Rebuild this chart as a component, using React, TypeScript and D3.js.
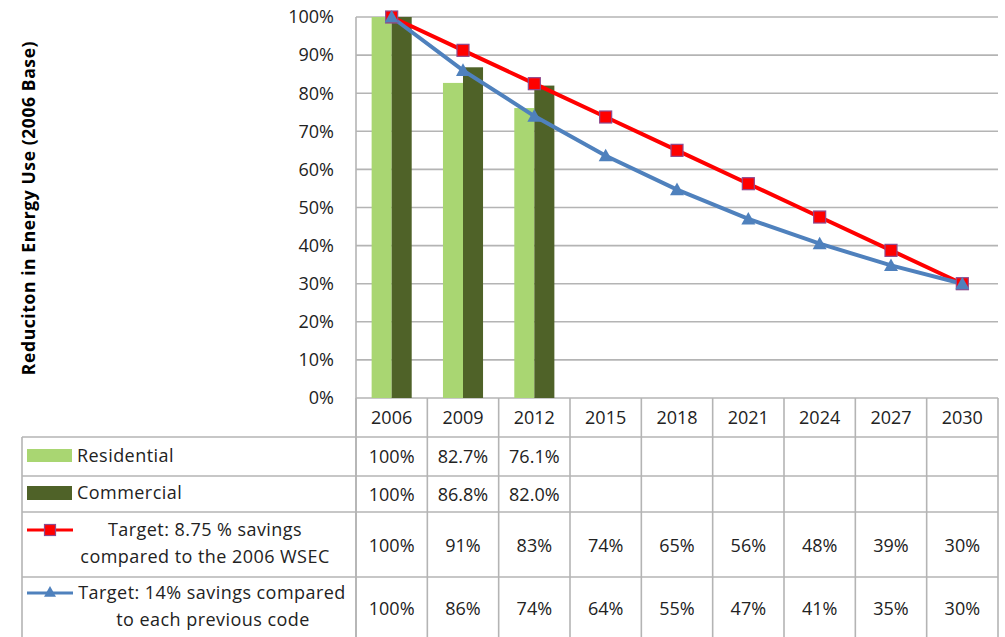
import React from "react";
import { scaleBand, scaleLinear, line } from "d3";

const years = ["2006", "2009", "2012", "2015", "2018", "2021", "2024", "2027", "2030"];
const yTicks = [0, 10, 20, 30, 40, 50, 60, 70, 80, 90, 100];

const residential = [100, 82.7, 76.1];
const commercial = [100, 86.8, 82.0];
const target875 = [100, 91.25, 82.5, 73.75, 65, 56.25, 47.5, 38.75, 30];
const target14 = [100, 86, 74, 63.6, 54.7, 47, 40.5, 34.8, 30];

const residentialLabels = ["100%", "82.7%", "76.1%"];
const commercialLabels = ["100%", "86.8%", "82.0%"];
const target875Labels = ["100%", "91%", "83%", "74%", "65%", "56%", "48%", "39%", "30%"];
const target14Labels = ["100%", "86%", "74%", "64%", "55%", "47%", "41%", "35%", "30%"];

const yTitle = "Reduciton in Energy Use (2006 Base)";

const GREEN_LT = "#a9d672";
const GREEN_DK = "#4f6228";
const RED = "#ff0000";
const BLUE = "#4f81bd";
const GRID = "#b4b4b4";
const FONT = "'Open Sans', sans-serif";

export default function App() {
  const W = 1005, H = 637;
  const left = 356, right = 998, top = 17, bottom = 398;
  const tableLeft = 22;
  const rows = [398, 437, 476, 512, 577, 637];

  const x = scaleBand().domain(years).range([left, right]).padding(0);
  const y = scaleLinear().domain([0, 100]).range([bottom, top]);
  const xBar = scaleBand()
    .domain(["res", "com"])
    .range([0, x.bandwidth()])
    .paddingInner(0)
    .paddingOuter(0.78);

  const cx = (i) => x(years[i]) + x.bandwidth() / 2;
  const mkLine = line<number>().x((d, i) => cx(i)).y((d) => y(d));

  const tri = (px, py, s) =>
    `M${px},${py - s}L${px + s},${py + s * 0.8}L${px - s},${py + s * 0.8}Z`;

  const num = { fontFamily: FONT, fontSize: 18, fill: "#222" };
  const lab = { fontFamily: FONT, fontSize: 18, fill: "#222", letterSpacing: 0.45 };

  return (
    <div style={{ position: "absolute", left: 0, top: 0 }}>
      <svg width={W} height={H} style={{ display: "block", background: "#fff" }}>
        {/* gridlines */}
        {yTicks.map((t) => (
          <line key={t} x1={left} x2={right} y1={y(t)} y2={y(t)} stroke={GRID} strokeWidth={1.6} />
        ))}
        {yTicks.map((t) => (
          <text key={"l" + t} x={334} y={y(t)} dy="0.35em" textAnchor="end" {...num}>
            {t + "%"}
          </text>
        ))}
        <text
          transform={`translate(35,208) rotate(-90)`}
          textAnchor="middle"
          fontFamily={FONT}
          fontSize={17.5}
          letterSpacing={0.6}
          fontWeight="bold"
          fill="#000"
        >
          {yTitle}
        </text>

        {/* bars */}
        {residential.map((v, i) => (
          <rect key={"r" + i} x={x(years[i]) + xBar("res")} y={y(v)} width={xBar.bandwidth()} height={bottom - y(v)} fill={GREEN_LT} />
        ))}
        {commercial.map((v, i) => (
          <rect key={"c" + i} x={x(years[i]) + xBar("com")} y={y(v)} width={xBar.bandwidth()} height={bottom - y(v)} fill={GREEN_DK} />
        ))}

        {/* lines */}
        <path d={mkLine(target875)} fill="none" stroke={RED} strokeWidth={4} />
        <path d={mkLine(target14)} fill="none" stroke={BLUE} strokeWidth={4} />
        {target875.map((v, i) => (
          <rect key={"m" + i} x={cx(i) - 6} y={y(v) - 6} width={12} height={12} fill={RED} stroke="#8e4a8e" strokeWidth={1.2} />
        ))}
        {target14.map((v, i) => (
          <path key={"t" + i} d={tri(cx(i), y(v), 7)} fill={BLUE} />
        ))}

        {/* table lines */}
        <line x1={left} x2={left} y1={top} y2={H} stroke={GRID} strokeWidth={1.6} />
        <line x1={right} x2={right} y1={bottom} y2={H} stroke={GRID} strokeWidth={1.6} />
        <line x1={tableLeft} x2={tableLeft} y1={rows[1]} y2={H} stroke={GRID} strokeWidth={1.6} />
        {rows.slice(1, 5).map((r) => (
          <line key={r} x1={tableLeft} x2={right} y1={r} y2={r} stroke={GRID} strokeWidth={1.6} />
        ))}
        {years.map((yr) => (
          <line key={"v" + yr} x1={x(yr)} x2={x(yr)} y1={bottom} y2={H} stroke={GRID} strokeWidth={1.6} />
        ))}

        {/* header */}
        {years.map((yr, i) => (
          <text key={"h" + yr} x={cx(i)} y={418} dy="0.35em" textAnchor="middle" {...num}>
            {yr}
          </text>
        ))}
        {residentialLabels.map((s, i) => (
          <text key={"rl" + i} x={cx(i)} y={457} dy="0.35em" textAnchor="middle" {...num}>{s}</text>
        ))}
        {commercialLabels.map((s, i) => (
          <text key={"cl" + i} x={cx(i)} y={495} dy="0.35em" textAnchor="middle" {...num}>{s}</text>
        ))}
        {target875Labels.map((s, i) => (
          <text key={"al" + i} x={cx(i)} y={546} dy="0.35em" textAnchor="middle" {...num}>{s}</text>
        ))}
        {target14Labels.map((s, i) => (
          <text key={"bl" + i} x={cx(i)} y={609} dy="0.35em" textAnchor="middle" {...num}>{s}</text>
        ))}

        {/* legend keys */}
        <rect x={27} y={449} width={45} height={13} fill={GREEN_LT} />
        <text x={77} y={456} dy="0.35em" {...lab}>Residential</text>
        <rect x={27} y={486} width={45} height={14} fill={GREEN_DK} />
        <text x={77} y={493} dy="0.35em" {...lab}>Commercial</text>

        <line x1={27} x2={73} y1={530} y2={530} stroke={RED} strokeWidth={3} />
        <rect x={44.5} y={524.5} width={11} height={11} fill={RED} stroke="#8e4a8e" strokeWidth={1.2} />
        <text x={205} y={530} dy="0.35em" textAnchor="middle" {...lab}>Target: 8.75 % savings</text>
        <text x={205} y={557} dy="0.35em" textAnchor="middle" {...lab}>compared to the 2006 WSEC</text>

        <line x1={27} x2={73} y1={593} y2={593} stroke={BLUE} strokeWidth={3} />
        <path d={tri(50, 592, 6)} fill={BLUE} />
        <text x={212} y={593} dy="0.35em" textAnchor="middle" {...lab}>Target: 14% savings compared</text>
        <text x={213} y={620} dy="0.35em" textAnchor="middle" {...lab}>to each previous code</text>
      </svg>
    </div>
  );
}
